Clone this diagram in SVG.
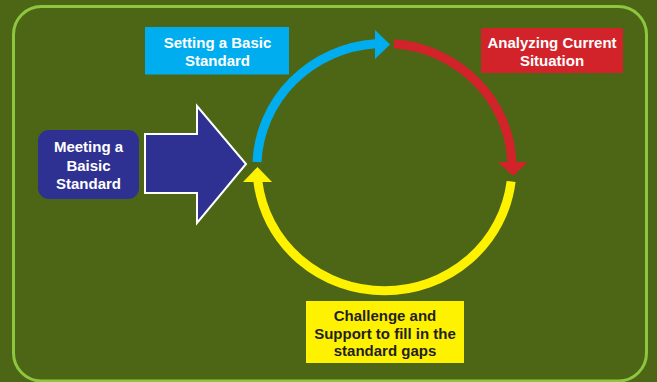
<svg xmlns="http://www.w3.org/2000/svg" width="657" height="382" viewBox="0 0 657 382">
<style>
.t{font-family:"Liberation Sans",Arial,sans-serif;font-weight:bold;font-size:15px;text-anchor:middle}
.w{fill:#ffffff}
.d{fill:#231f20}
.arc{fill:none;stroke-width:9}
</style>
<rect x="0" y="0" width="657" height="382" fill="#4d6615"/>
<rect x="13.5" y="6.5" width="633" height="374.5" rx="28" ry="28" fill="#4d6615" stroke="#8dc63f" stroke-width="3"/>
<g id="connectors">
<path class="arc" stroke="#00aeef" d="M257,162 A127.5,124 0 0 1 375.5,43.8"/>
<polygon fill="#00aeef" points="375,30 390,44.5 375,59"/>
<path class="arc" stroke="#d2232a" d="M394,43.8 A127.5,124 0 0 1 511.9,162.5"/>
<polygon fill="#d2232a" points="498,162 527.5,162 513,176"/>
<path class="arc" stroke="#fff200" d="M511.1,181.5 A127.5,124 0 0 1 257.9,181.5"/>
<polygon fill="#fff200" points="243,182 272,182 257.5,167"/>
</g>
<g id="big-arrow">
<polygon points="145,134 197,134 197,106 246,164 197,223 197,193 145,193" fill="#2e3192" stroke="#ffffff" stroke-width="2"/>
</g>
<g id="meeting">
<rect x="38" y="130" width="101" height="69" rx="11" ry="11" fill="#2e3192"/>
<text class="t w" x="88.5" y="152">Meeting a</text>
<text class="t w" x="88.5" y="170.5">Baisic</text>
<text class="t w" x="88.5" y="189">Standard</text>
</g>
<g id="setting">
<rect x="145" y="27" width="144" height="47.5" fill="#00aeef"/>
<text class="t w" x="217.5" y="47.5">Setting a Basic</text>
<text class="t w" x="217.5" y="66">Standard</text>
</g>
<g id="analyzing">
<rect x="481" y="28" width="142" height="45" fill="#d2232a"/>
<text class="t w" x="552" y="47.5">Analyzing Current</text>
<text class="t w" x="552" y="66">Situation</text>
</g>
<g id="challenge">
<rect x="306" y="301" width="158" height="62" fill="#fff200"/>
<text class="t d" x="385" y="320.5">Challenge and</text>
<text class="t d" x="385" y="338.5">Support to fill in the</text>
<text class="t d" x="385" y="356">standard gaps</text>
</g>
</svg>
